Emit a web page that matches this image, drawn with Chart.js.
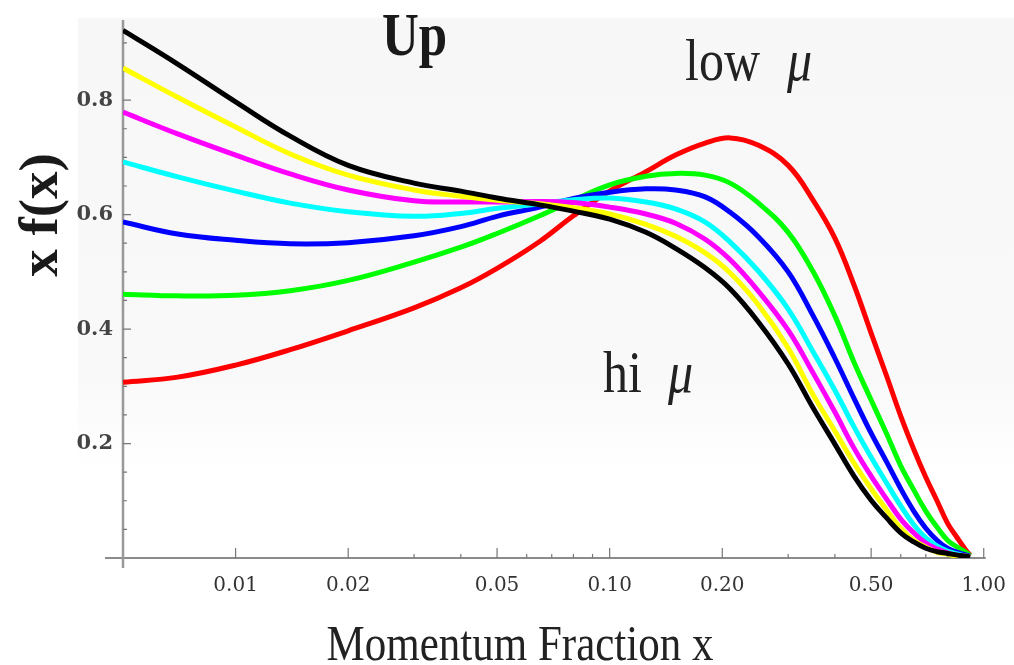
<!DOCTYPE html>
<html>
<head>
<meta charset="utf-8">
<script src="https://cdn.jsdelivr.net/npm/chart.js@4.4.1/dist/chart.umd.min.js"></script>
<style>
html,body{margin:0;padding:0;background:#fff;}
#wrap{width:1014px;height:665px;position:relative;}
</style>
</head>
<body>
<div id="wrap"><canvas id="c" width="1014" height="665"></canvas></div>
<script>
// ---- data ----
const xValues = [0.005, 0.007, 0.01, 0.014, 0.02, 0.03, 0.04, 0.05, 0.065, 0.08, 0.1, 0.125, 0.15, 0.18, 0.21, 0.25, 0.3, 0.35, 0.4, 0.45, 0.5, 0.55, 0.6, 0.65, 0.7, 0.75, 0.8, 0.85, 0.9, 0.92];
const blackVals   = [0.922,0.863,0.797,0.737,0.686,0.655,0.641,0.629,0.617,0.606,0.592,0.569,0.541,0.507,0.470,0.412,0.339,0.262,0.199,0.143,0.101,0.070,0.044,0.028,0.017,0.011,0.008,0.005,0.003,0.002];
const yellowVals  = [0.856,0.805,0.753,0.706,0.669,0.643,0.632,0.625,0.619,0.612,0.601,0.583,0.562,0.533,0.498,0.442,0.367,0.285,0.222,0.166,0.121,0.084,0.052,0.031,0.019,0.010,0.007,0.003,0.003,0.002];
const magentaVals = [0.779,0.741,0.704,0.671,0.643,0.624,0.622,0.622,0.623,0.621,0.613,0.601,0.585,0.557,0.521,0.466,0.398,0.323,0.255,0.192,0.143,0.103,0.068,0.044,0.026,0.016,0.009,0.005,0.003,0.002];
const cyanVals    = [0.692,0.666,0.641,0.620,0.605,0.597,0.602,0.611,0.619,0.626,0.629,0.622,0.610,0.587,0.552,0.501,0.435,0.360,0.293,0.229,0.176,0.131,0.091,0.058,0.035,0.021,0.012,0.007,0.003,0.002];
const blueVals    = [0.587,0.566,0.555,0.549,0.551,0.563,0.579,0.597,0.613,0.628,0.639,0.645,0.643,0.631,0.604,0.561,0.500,0.423,0.349,0.279,0.218,0.168,0.121,0.082,0.052,0.031,0.017,0.010,0.005,0.003];
const greenVals   = [0.461,0.458,0.459,0.467,0.485,0.517,0.543,0.567,0.598,0.625,0.652,0.667,0.672,0.669,0.655,0.620,0.569,0.500,0.423,0.342,0.276,0.217,0.161,0.119,0.082,0.054,0.031,0.019,0.009,0.004];
const redVals     = [0.307,0.316,0.337,0.364,0.397,0.437,0.472,0.506,0.553,0.598,0.641,0.675,0.704,0.725,0.734,0.721,0.686,0.625,0.559,0.477,0.393,0.318,0.248,0.190,0.141,0.100,0.061,0.035,0.012,0.005];

const xMajorTicks = [0.01, 0.02, 0.05, 0.1, 0.2, 0.5, 1.0];
const xMinorTicks = [0.03, 0.04, 0.06, 0.07, 0.08, 0.09, 0.3, 0.4, 0.6, 0.7, 0.8, 0.9];
const yMajorTicks = [0.2, 0.4, 0.6, 0.8];
const yMinorTicks = [0.05, 0.1, 0.15, 0.25, 0.3, 0.35, 0.45, 0.5, 0.55, 0.65, 0.7, 0.75, 0.85, 0.9];
const xMin = 0.005, xMax = 1.0, yMin = 0, yMax = 0.94;

const series = [
  {name: 'black',   color: '#000000', values: blackVals},
  {name: 'yellow',  color: '#ffff00', values: yellowVals},
  {name: 'magenta', color: '#ff00ff', values: magentaVals},
  {name: 'cyan',    color: '#00ffff', values: cyanVals},
  {name: 'blue',    color: '#0000ff', values: blueVals},
  {name: 'green',   color: '#00ff00', values: greenVals},
  {name: 'red',     color: '#ff0000', values: redVals}
];

// ---- plugins ----
const bgPlugin = {
  id: 'bg',
  beforeDraw(chart) {
    const ctx = chart.ctx;
    ctx.save();
    const g = ctx.createLinearGradient(0, 18, 0, 470);
    g.addColorStop(0, '#f7f7f7');
    g.addColorStop(0.8, '#f9f9f9');
    g.addColorStop(1, '#ffffff');
    ctx.fillStyle = g;
    ctx.fillRect(78, 18, 1014 - 78, 470 - 18);
    ctx.restore();
  }
};

const axesPlugin = {
  id: 'axesMarks',
  beforeDatasetsDraw(chart) {
    const ctx = chart.ctx;
    const xs = chart.scales.x, ys = chart.scales.y;
    const x0 = xs.getPixelForValue(xMin);
    const y0 = ys.getPixelForValue(yMin);
    ctx.save();
    ctx.strokeStyle = '#666';
    ctx.lineWidth = 1.5;
    ctx.beginPath();
    ctx.moveTo(x0 - 18, y0);
    ctx.lineTo(xs.getPixelForValue(xMax) + 2, y0);
    ctx.stroke();
    ctx.strokeStyle = '#999';
    ctx.lineWidth = 2.5;
    ctx.beginPath();
    ctx.moveTo(x0, ys.getPixelForValue(yMax));
    ctx.lineTo(x0, y0 + 10);
    ctx.stroke();
    ctx.strokeStyle = '#777';
    ctx.lineWidth = 1.2;
    ctx.beginPath();
    yMajorTicks.forEach(v => { const p = ys.getPixelForValue(v); ctx.moveTo(x0, p); ctx.lineTo(x0 + 8, p); });
    yMinorTicks.forEach(v => { const p = ys.getPixelForValue(v); ctx.moveTo(x0, p); ctx.lineTo(x0 + 4, p); });
    xMajorTicks.forEach(v => { const p = xs.getPixelForValue(v); ctx.moveTo(p, y0); ctx.lineTo(p, y0 - 10); });
    xMinorTicks.forEach(v => { const p = xs.getPixelForValue(v); ctx.moveTo(p, y0); ctx.lineTo(p, y0 - 4); });
    ctx.stroke();
    ctx.restore();
  }
};

function drawText(ctx, text, x, y, font, sy, align, color) {
  ctx.save();
  ctx.translate(x, y);
  ctx.scale(1, sy);
  ctx.font = font;
  ctx.textAlign = align || 'left';
  ctx.textBaseline = 'alphabetic';
  ctx.fillStyle = color || '#1a1a1a';
  ctx.fillText(text, 0, 0);
  ctx.restore();
}

const textPlugin = {
  id: 'texts',
  afterDraw(chart) {
    const ctx = chart.ctx;
    const serif = '"Liberation Serif", "Times New Roman", serif';
    drawText(ctx, 'Up', 382, 55, 'bold 51px ' + serif, 1.2, 'left', '#1a1a1a');
    drawText(ctx, 'low', 685, 80, '50px ' + serif, 1.2, 'left', '#222');
    drawText(ctx, 'μ', 787, 80, 'italic 50px ' + serif, 1.2, 'left', '#222');
    drawText(ctx, 'hi', 603, 392, '50px ' + serif, 1.2, 'left', '#222');
    drawText(ctx, 'μ', 668, 392, 'italic 50px ' + serif, 1.2, 'left', '#222');
    drawText(ctx, 'Momentum Fraction x', 520, 660, '43px ' + serif, 1.2, 'center', '#222');
    ctx.save();
    ctx.translate(57, 215);
    ctx.rotate(-Math.PI / 2);
    ctx.font = 'bold 55px ' + serif;
    ctx.textAlign = 'center';
    ctx.textBaseline = 'alphabetic';
    ctx.fillStyle = '#1a1a1a';
    ctx.fillText('x f(x)', 0, 0);
    ctx.restore();
  }
};

new Chart(document.getElementById('c'), {
  type: 'line',
  data: {
    datasets: series.map(s => ({
      label: s.name,
      data: xValues.map((x, i) => ({x: x, y: s.values[i]})),
      borderColor: s.color,
      backgroundColor: s.color,
      borderWidth: 5,
      pointRadius: 0,
      fill: false,
      tension: 0.4
    }))
  },
  options: {
    responsive: false,
    animation: false,
    devicePixelRatio: 1,
    layout: {padding: {left: 0, right: 26, top: 20, bottom: 0}},
    plugins: {legend: {display: false}, tooltip: {enabled: false}},
    scales: {
      x: {
        type: 'logarithmic', min: xMin, max: xMax,
        grid: {display: false}, border: {display: false},
        afterBuildTicks: s => { s.ticks = xMajorTicks.map(v => ({value: v})); },
        ticks: {autoSkip: false, maxRotation: 0, minRotation: 0, padding: 8, color: '#333',
          font: {family: '"DejaVu Serif"', size: 20},
          callback: v => Number(v).toFixed(2)},
        afterFit: s => { s.height = 107; }
      },
      y: {
        type: 'linear', min: yMin, max: yMax,
        grid: {display: false}, border: {display: false},
        afterBuildTicks: s => { s.ticks = yMajorTicks.map(v => ({value: v})); },
        ticks: {padding: 2, color: '#444',
          font: {family: '"DejaVu Serif"', size: 21, weight: 'bold'},
          callback: v => Number(v).toFixed(1)},
        afterFit: s => { s.width = 123; }
      }
    }
  },
  plugins: [bgPlugin, axesPlugin, textPlugin]
});
</script>
</body>
</html>
